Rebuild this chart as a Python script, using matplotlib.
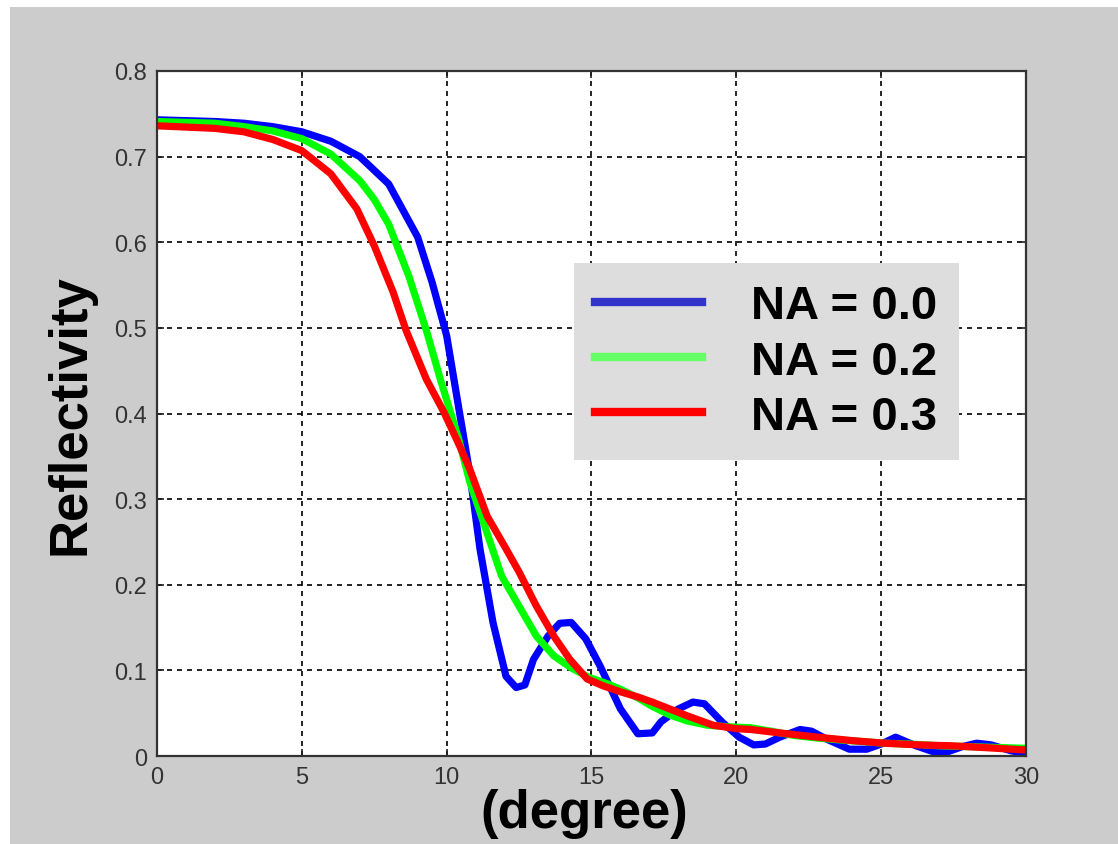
import matplotlib
matplotlib.use("Agg")
import matplotlib.pyplot as plt
from matplotlib.lines import Line2D
from matplotlib.patches import Rectangle

plt.rcParams['font.family'] = ['Liberation Sans', 'DejaVu Sans']

# NA = 0.0
deg_na00 = [0, 2, 3, 4, 5, 6, 7, 8, 9, 9.5, 10, 10.4, 10.8, 11.15, 11.6, 12.05,
            12.4, 12.7, 13.0, 13.5, 13.9, 14.3, 14.8, 15.3, 16.0, 16.6, 17.1,
            17.4, 18.0, 18.5, 18.9, 19.5, 20.1, 20.6, 21.0, 21.5, 22.2, 22.6,
            23.1, 23.9, 24.5, 25.0, 25.5, 26.2, 26.8, 27.3, 27.8, 28.3, 28.8,
            29.5, 30]
refl_na00 = [0.743, 0.741, 0.739, 0.735, 0.729, 0.718, 0.700, 0.668, 0.606,
             0.553, 0.491, 0.410, 0.330, 0.242, 0.156, 0.093, 0.080, 0.083,
             0.113, 0.140, 0.155, 0.156, 0.137, 0.105, 0.055, 0.026, 0.027,
             0.040, 0.055, 0.063, 0.061, 0.040, 0.022, 0.013, 0.014, 0.022,
             0.031, 0.029, 0.020, 0.008, 0.008, 0.014, 0.022, 0.012, 0.005,
             0.005, 0.011, 0.015, 0.013, 0.006, 0.003]

# NA = 0.2
deg_na02 = [0, 2, 3, 4, 5, 6, 7, 7.5, 8, 8.7, 9.3, 9.8, 10.4, 10.8, 11.4, 11.9,
            12.5, 13.1, 13.7, 14.3, 14.9, 15.5, 16.0, 16.6, 17.1, 17.7, 18.3,
            19.0, 19.8, 20.5, 21.2, 22.0, 22.8, 23.5, 24.3, 25.1, 26.0, 27.0,
            28.0, 29.0, 30]
refl_na02 = [0.741, 0.739, 0.735, 0.730, 0.721, 0.703, 0.672, 0.650, 0.621,
             0.560, 0.497, 0.438, 0.372, 0.320, 0.260, 0.210, 0.175, 0.140,
             0.117, 0.103, 0.092, 0.085, 0.078, 0.068, 0.058, 0.048, 0.041,
             0.036, 0.034, 0.033, 0.029, 0.024, 0.021, 0.019, 0.017, 0.015,
             0.014, 0.012, 0.011, 0.010, 0.009]

# NA = 0.3
deg_na03 = [0, 2, 3, 4, 5, 6, 6.9, 7.5, 8.15, 8.6, 9.3, 9.9, 10.45, 10.8, 11.4,
            12.0, 12.5, 13.1, 13.7, 14.25, 14.85, 15.4, 16.0, 16.6, 17.1, 17.7,
            18.3, 19.2, 20.0, 20.5, 21.5, 22.8, 24.0, 25.1, 26.3, 27.4, 28.5, 30]
refl_na03 = [0.736, 0.733, 0.729, 0.720, 0.707, 0.680, 0.639, 0.596, 0.542,
             0.497, 0.440, 0.402, 0.362, 0.335, 0.280, 0.245, 0.215, 0.175,
             0.140, 0.113, 0.090, 0.082, 0.075, 0.069, 0.063, 0.055, 0.047,
             0.036, 0.032, 0.031, 0.027, 0.022, 0.018, 0.015, 0.013, 0.012,
             0.010, 0.007]

labels = ['NA = 0.0', 'NA = 0.2', 'NA = 0.3']
x_ticks = [0, 5, 10, 15, 20, 25, 30]
y_ticks = [0, 0.1, 0.2, 0.3, 0.4, 0.5, 0.6, 0.7, 0.8]

fig = plt.figure(figsize=(11.18, 8.45), dpi=100, facecolor='white')
# grey window area (thin white strip on the left and top)
fig.patches.append(Rectangle((10 / 1118, 0), 1, 837 / 845, transform=fig.transFigure,
                             facecolor='#cccccc', edgecolor='none', zorder=-1))

ax = fig.add_axes([0.1404, 0.1041, 0.7773, 0.8107])
ax.set_facecolor('white')

ax.plot(deg_na00, refl_na00, color='#0000ff', lw=5.2, solid_joinstyle='round')
ax.plot(deg_na02, refl_na02, color='#00ff00', lw=5.2, solid_joinstyle='round')
ax.plot(deg_na03, refl_na03, color='#ff0000', lw=5.2, solid_joinstyle='round')

ax.set_xlim(0, 30)
ax.set_ylim(0, 0.8)
ax.set_xticks(x_ticks)
ax.set_yticks(y_ticks)
ax.set_xticklabels([str(t) for t in x_ticks])
ax.set_yticklabels(['0'] + [f'{t:.1f}' for t in y_ticks[1:]])
ax.tick_params(direction='in', top=True, right=True, length=5, width=1.2,
               labelsize=17, labelcolor='#333333', color='#222222', pad=7)
ax.grid(True, color='black', linestyle=(0, (3, 3)), linewidth=1.2)
for sp in ax.spines.values():
    sp.set_linewidth(1.6)
    sp.set_color('#333333')

ax.set_ylabel('Reflectivity', fontsize=38, fontweight='bold')
ax.yaxis.set_label_coords(-0.071, 0.5)
ax.set_xlabel('(degree)', fontsize=38, fontweight='bold')
ax.xaxis.set_label_coords(0.4914, -0.047)

handles = [Line2D([], [], color='#3333cc', lw=6),
           Line2D([], [], color='#66ff66', lw=6),
           Line2D([], [], color='#ff0000', lw=6)]
leg = ax.legend(handles, labels, loc='upper left', bbox_to_anchor=(0.480, 0.7197),
                borderaxespad=0, prop={'weight': 'bold', 'size': 34},
                handlelength=2.25, handletextpad=1.05, labelspacing=0.24,
                borderpad=0.45, fancybox=False, framealpha=1)
leg.get_frame().set_facecolor('#dddddd')
leg.get_frame().set_edgecolor('none')

fig.savefig('out.png', dpi=100)
